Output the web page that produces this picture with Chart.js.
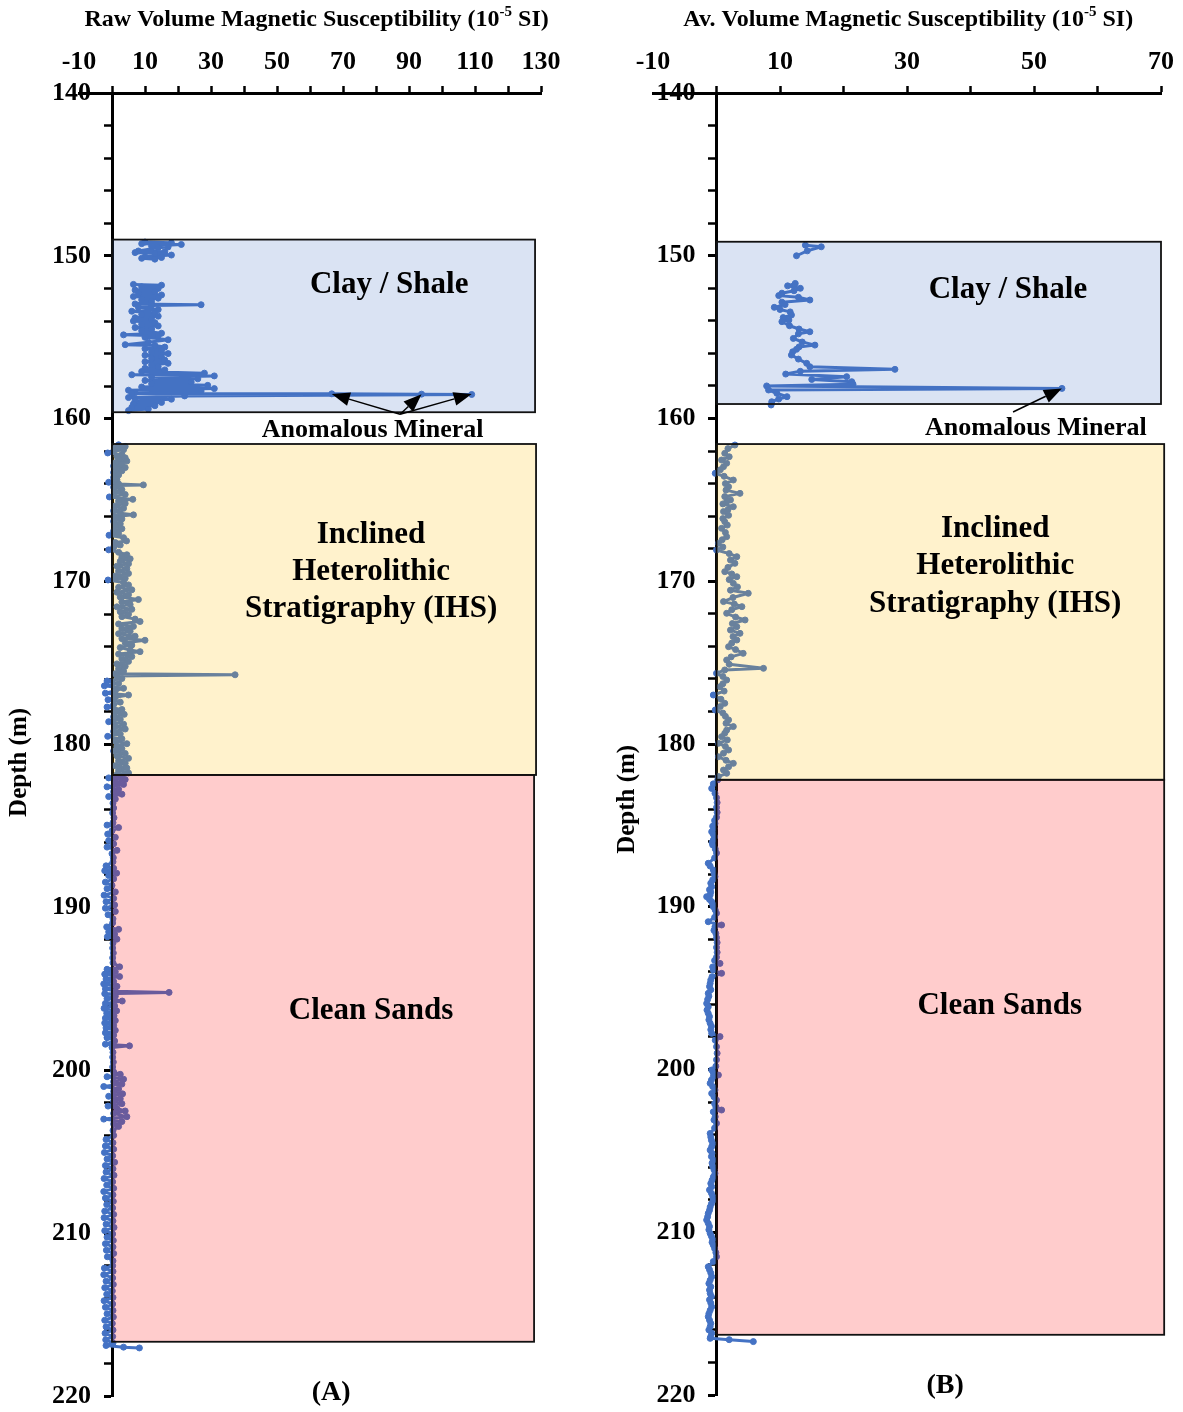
<!DOCTYPE html>
<html>
<head>
<meta charset="utf-8">
<script src="https://cdn.jsdelivr.net/npm/chart.js@4.4.1/dist/chart.umd.min.js"></script>
<style>
  body { margin: 0; background: #fff; }
  #wrap { display: flex; width: 1183px; height: 1412px; }
  canvas { display: block; }
</style>
</head>
<body>
<div id="wrap">
  <canvas id="chartA" width="591" height="1412"></canvas>
  <canvas id="chartB" width="592" height="1412"></canvas>
</div>
<script>
// tick labels
const depthLabels = [140, 150, 160, 170, 180, 190, 200, 210, 220];
const xLabelsA = [-10, 10, 30, 50, 70, 90, 110, 130];
const xLabelsB = [-10, 10, 30, 50, 70];

// facies intervals (depth in m, right edge in 10^-5 SI)
const zoneNames = ['Clay / Shale', 'IHS', 'Clean Sands'];
const zoneTopA = [149.0, 161.55, 181.87];
const zoneBaseA = [159.6, 181.87, 216.67];
const zoneRightA = [128.2, 128.5, 127.9];
const zoneTopB = [149.14, 161.57, 182.2];
const zoneBaseB = [159.11, 182.2, 216.3];
const zoneRightB = [70, 70.5, 70.5];

// raw readings, panel A (null = no core recovered)
const depthA = [
  149.15, 149.2, 149.25, 149.3, 149.4, 149.45, 149.5, 149.7, 149.75, 149.8,
  149.85, 149.95, 150.05, 150.1, 150.15, 150.2, 150.9,
  151.75, 151.8, 151.9, 152.0, 152.1, 152.2, 152.3, 152.4, 152.5, 152.6,
  152.7, 152.8, 152.95, 153.0, 153.05, 153.15, 153.3, 153.4, 153.5, 153.6,
  153.7, 153.8, 153.9, 154.0, 154.1, 154.2, 154.3, 154.4, 154.5, 154.6,
  154.75, 154.85, 154.9, 155.0, 155.15, 155.3, 155.45, 155.5, 155.6, 155.7,
  155.8, 155.9, 156.0, 156.1, 156.2, 156.3, 156.4, 156.5, 156.6, 156.7,
  156.8, 156.9, 157.0, 157.1, 157.2, 157.3, 157.37, 157.45, 157.55, 157.65,
  157.75, 157.85, 157.95, 158.05, 158.15, 158.25, 158.3, 158.4, 158.45, 158.47,
  158.49, 158.51, 158.6, 158.7, 158.8, 158.9, 159.0, 159.1, 159.2, 159.3,
  159.4, 159.5, 160.5,
  161.6, 161.7, 161.8, 161.9, 162.0, 162.1, 162.2, 162.3, 162.4, 162.5,
  162.6, 162.7, 162.8, 162.9, 163.0, 163.1, 163.2, 163.3, 163.45, 163.6,
  163.75, 163.9, 164.0, 164.06, 164.1, 164.2, 164.35, 164.5, 164.65, 164.8,
  164.95, 165.05, 165.2, 165.35, 165.5, 165.65, 165.8, 165.9, 166.0, 166.15,
  166.3, 166.45, 166.6, 166.75, 166.9, 167.05, 167.15, 167.3, 167.5, 167.6,
  167.75, 167.9, 168.05, 168.2, 168.35, 168.5, 168.6, 168.75, 168.9, 169.05,
  169.2, 169.35, 169.5, 169.65, 169.8, 169.9, 170.05, 170.2, 170.35, 170.5,
  170.65, 170.8, 170.95, 171.1, 171.25, 171.4, 171.55, 171.7, 171.85, 172.0,
  172.15, 172.3, 172.45, 172.6, 172.75, 172.9, 173.05, 173.2, 173.35, 173.5,
  173.6, 173.75, 173.9, 174.05, 174.2, 174.3, 174.45, 174.6, 174.75, 174.9,
  175.05, 175.2, 175.35, 175.5, 175.65, 175.72, 175.8, 175.95, 176.1, 176.25,
  176.4, 176.55, 176.7, 176.85, 176.96, 177.1, 177.25, 177.4, 177.55, 177.7,
  177.85, 178.0, 178.15, 178.3, 178.45, 178.6, 178.75, 178.9, 179.05, 179.2,
  179.35, 179.5, 179.65, 179.8, 179.95, 180.1, 180.25, 180.4, 180.55, 180.7,
  180.85, 181.0, 181.15, 181.3, 181.45, 181.6, 181.75, 181.85,
  181.95, 182.05, 182.15, 182.3, 182.45, 182.6, 182.75, 182.9, 183.05, 183.2,
  183.35, 183.6, 183.9, 184.2, 184.5, 184.8, 184.95, 185.1, 185.3, 185.5,
  185.7, 185.9, 186.1, 186.3, 186.5, 186.7, 186.95, 187.2, 187.45, 187.6,
  187.75, 187.9, 188.05, 188.25, 188.45, 188.65, 188.85, 189.05, 189.25, 189.45,
  189.65, 189.85, 190.05, 190.25, 190.45, 190.7, 190.95, 191.2, 191.35, 191.5,
  191.65, 191.8, 191.95, 192.2, 192.5, 192.8, 193.1, 193.4, 193.65, 193.8,
  193.95, 194.1, 194.25, 194.4, 194.55, 194.7, 194.85, 195.0, 195.15, 195.22,
  195.3, 195.45, 195.6, 195.75, 195.9, 196.05, 196.2, 196.35, 196.5, 196.65,
  196.8, 196.95, 197.1, 197.25, 197.4, 197.55, 197.7, 197.85, 198.0, 198.2,
  198.4, 198.5, 198.6, 198.9, 199.2, 199.5, 199.8, 200.1, 200.25, 200.4,
  200.55, 200.7, 200.85, 201.0, 201.15, 201.3, 201.45, 201.6, 201.75, 201.9,
  202.05, 202.2, 202.35, 202.5, 202.65, 202.85, 203.0, 203.15, 203.3, 203.45,
  203.7, 204.0, 204.25, 204.45, 204.65, 204.85, 205.05, 205.25, 205.45, 205.65,
  205.85, 206.05, 206.25, 206.45, 206.65, 206.85, 207.05, 207.25, 207.45, 207.65,
  207.85, 208.05, 208.25, 208.45, 208.65, 208.85, 209.05, 209.25, 209.45, 209.65,
  209.85, 210.05, 210.25, 210.45, 210.65, 210.85, 211.05, 211.25, 211.45, 211.7,
  212.0, 212.15, 212.35, 212.55, 212.75, 212.95, 213.15, 213.35, 213.55, 213.75,
  213.95, 214.15, 214.35, 214.55, 214.75, 214.95, 215.15, 215.35, 215.55, 215.75,
  215.95, 216.15, 216.35, 216.55, 216.75, 216.9, 217.0, 217.05
];
const suscA = [
  10, 18, 9, 21, 12, 17, 14, 8, 16, 7,
  13, 18, 10, 15, 9, 13, null,
  6.5, 15, 9, 14, 7, 13, 8, 15, 6.5, 14,
  9, 12, 7, 27, 12, 8, 14, 6, 13, 9,
  14, 7, 12, 6.5, 13, 9, 14, 7, 12, 9,
  15, 3.5, 14, 10, 17, 11, 4, 13, 16, 10,
  15, 12, 17, 10, 15, 12, 16, 10, 17, 12,
  14, 10, 16, 9, 28, 6, 31, 12, 26, 10,
  24, 12, 29, 9, 31, 5, 27, 7, 6, 66.6,
  93.8, 109, 22, 5, 18, 7, 15, 6.5, 13, 6,
  11, 5, null,
  2, 4, 1, 3.5, 0.5, -1.3, 3, 1.5, 4, 2,
  4.5, 1, 3, 0.5, 4, 1.5, 3, 0.5, 2, 0.5,
  1.5, -1, 2, 9.5, 1.5, 0.5, 3, 1, 4, -0.8,
  6.3, 2, 4, 1, 3.5, 0.5, 2.5, 6.5, 1, 3,
  0.5, 2.5, 1, 3, 0.5, 2, -0.9, 3.5, 4.4, 1,
  2.5, 0.5, -1, 2, 4.5, 3, 5.5, 2.5, 5, 1.5,
  4.5, 2, 5, 1, 4, -1.2, 3.5, 5, 2, 6,
  1.5, 5, 2.5, 8, 3, 5.5, 1.5, 6, 2.5, 5,
  3, 7, 8.5, 2, 6.5, 3, 5.5, 2, 7, 3,
  10, 4, 6, 2.5, 5.5, 8.5, 2, 6, 3, 5,
  1.5, 4, 2, 3.5, 1, 37.3, 1.5, 3, -1.5, 2,
  -2.3, 3.5, 1, -2, 5, 1, -1.2, 2.5, 0.5, -1.5,
  3, 1, 3.7, 0.5, 2.5, -1, 3.5, 1, 4, 0.5,
  2.5, -1.3, 3, 1, 4.5, 1.5, 3, 0.5, 4, 1.5,
  5, 2, 4, 1, 4.5, 2, 5, 1.5,
  3, -1, 4, 1, 3.5, -1.5, 2, 0.5, 3, -1,
  1, 0.3, 0.5, 0.2, 0.6, 0.3, -1.5, 2, 0, -1.3,
  1, -1, 0.5, -1.5, 1.5, 0, 0.4, 0.3, -1.8, 0.5,
  -2.2, 1.4, -1, 0.5, -2, 0, -1.5, 1, -2.4, 0.5,
  -1.8, 0.8, -2, 1, -1.2, 0.3, 0.2, -1.6, 2, -1,
  0.8, -1.4, 1.5, 0.3, 0.2, 0.4, 0.2, 0.3, 2.3, -1.5,
  1, -2.2, 2.3, -1.8, 0.5, -2.5, 1.5, -2, 1, 17.3,
  -2.2, 1, -1.5, 3.1, -2, 0.8, -2.4, 1.4, -1.6, 0.6,
  -2, 1, -2.2, 0.5, -1.8, 1, -2, 0.5, -1.5, 0.8,
  -2, 5.3, 0, 0.3, 0.2, 0.4, 0.2, 0.5, 2.5, -1.5,
  3.5, 0.5, 3, -2.5, 2, 0.5, 3.2, -1, 2.5, 0.5,
  3, -1.2, 1.5, 4, 0.5, 4.5, -2.5, 3, 0.5, 2,
  0.3, 0.5, -1.8, 0.3, -2, 0.5, -2.3, 0.2, -1.5, 0.8,
  -2, 0.3, -1.8, 0.6, -2.4, 0.2, -1.6, 0.5, -2.5, 0.3,
  -2, 0.4, -1.6, 0.2, -2.2, 0.5, -2.4, 0.3, -1.8, 0.6,
  -2.2, 0.2, -1.5, 0.4, -2, 0.3, -1.7, 0.5, -1.4, 0.3,
  0.2, -2.3, 0.3, -2.5, 0.2, -1.8, 0.4, -2.2, 0.1, -1.6,
  0.3, -2.4, 0.2, -2, 0.3, -1.5, 0.4, -2.2, 0.1, -1.8,
  0.3, -2.1, 0.2, -1.9, 0.3, -1.8, 3.5, 8.3
];

// averaged readings, panel B
const depthB = [
  149.35, 149.45, 149.7, 150.0, 150.8,
  151.7, 151.85, 152.0, 152.15, 152.3, 152.45, 152.55, 152.72, 152.85, 153.0,
  153.17, 153.3, 153.45, 153.64, 153.8, 153.95, 154.05, 154.3, 154.5, 154.67,
  154.8, 155.08, 155.3, 155.49, 155.6, 155.75, 155.9, 156.1, 156.35, 156.61,
  156.82, 156.98, 157.1, 157.27, 157.43, 157.6, 157.74, 157.9, 158.0, 158.15,
  158.25, 158.45, 158.66, 158.8, 158.97, 159.17, 160.4,
  161.63, 161.85, 162.14, 162.35, 162.55, 162.75, 162.96, 163.15, 163.37, 163.55,
  163.78, 164.0, 164.19, 164.4, 164.6, 164.8, 165.0, 165.11, 165.25, 165.42,
  165.6, 165.72, 165.95, 166.15, 166.34, 166.55, 166.75, 167.0, 167.26, 167.45,
  167.67, 167.9, 168.08, 168.3, 168.49, 168.7, 168.9, 169.15, 169.41, 169.55,
  169.72, 169.9, 170.13, 170.35, 170.55, 170.74, 171.0, 171.25, 171.4, 171.56,
  171.75, 171.97, 172.2, 172.38, 172.6, 172.79, 173.0, 173.2, 173.4, 173.61,
  173.8, 174.02, 174.2, 174.43, 174.65, 174.84, 175.1, 175.35, 175.45, 175.66,
  175.85, 176.07, 176.3, 176.48, 176.75, 176.99, 177.25, 177.5, 177.7, 177.91,
  178.1, 178.3, 178.52, 178.73, 178.93, 179.15, 179.34, 179.55, 179.75, 179.96,
  180.15, 180.37, 180.57, 180.78, 181.0, 181.19, 181.4, 181.6, 181.8, 182.0,
  182.2, 182.45, 182.73, 183.03, 183.3, 183.6, 183.9, 184.2, 184.5, 184.7,
  184.88, 185.05, 185.2, 185.39, 185.55, 185.7, 185.9, 186.05, 186.2, 186.45,
  186.7, 187.0, 187.33, 187.5, 187.74, 187.95, 188.15, 188.35, 188.55, 188.77,
  188.95, 189.1, 189.28, 189.38, 189.55, 189.69, 189.85, 190.0, 190.2, 190.4,
  190.65, 190.92, 191.12, 191.23, 191.45, 191.64, 191.9, 192.2, 192.5, 192.8,
  193.1, 193.3, 193.48, 193.7, 193.89, 194.09, 194.3, 194.5, 194.71, 194.9,
  195.1, 195.32, 195.5, 195.7, 195.94, 196.15, 196.35, 196.55, 196.75, 196.95,
  197.16, 197.35, 197.55, 197.78, 197.98, 198.2, 198.6, 199.0, 199.4, 199.8,
  200.03, 200.2, 200.34, 200.44, 200.65, 200.85, 201.05, 201.26, 201.47, 201.68,
  201.88, 202.1, 202.3, 202.49, 202.6, 202.9, 203.1, 203.31, 203.6, 203.93,
  204.15, 204.35, 204.55, 204.74, 204.95, 205.15, 205.35, 205.56, 205.75, 205.95,
  206.15, 206.38, 206.6, 206.8, 207.0, 207.2, 207.4, 207.6, 207.8, 208.02,
  208.25, 208.45, 208.65, 208.84, 209.05, 209.25, 209.45, 209.65, 209.85, 210.07,
  210.25, 210.45, 210.62, 210.79, 211.0, 211.25, 211.5, 211.8, 212.12, 212.3,
  212.5, 212.73, 212.95, 213.15, 213.35, 213.55, 213.76, 213.95, 214.15, 214.35,
  214.58, 214.8, 215.0, 215.19, 215.4, 215.6, 215.8, 216.0, 216.21, 216.4,
  216.52, 216.6, 216.72
];
const suscB = [
  14, 16.5, 14.3, 12.6, null,
  12.4, 11.2, 13.2, 12.2, 10.3, 9.8, 12.9, 14.7, 10.3, 10.8,
  9.1, 10.0, 11.6, 11.8, 10.5, 11.4, 10.3, 11.5, 13.0, 14.7,
  12.9, 12.1, 13.5, 15.5, 13.0, 12.6, 12.0, 11.8, 12.9, 14.2,
  14.7, 28.1, 13.2, 10.9, 20.5, 15.0, 21.3, 21.5, 7.9, 54.4,
  8.2, 9.5, 11.1, 9.8, 8.7, 8.6, null,
  2.9, 1.8, 1.3, 2.0, 0.8, 1.6, 1.1, 0.6, -0.2, 1.2,
  2.65, 1.4, 1.9, 1.5, 3.7, 1.3, 2.2, 1.6, 1.0, 2.65,
  1.8, 1.1, 1.9, 1.0, 1.3, 1.7, 0.8, 1.4, 1.6, 0.9,
  0.3, 1.0, 0, 2.0, 3.2, 2.2, 2.9, 1.8, 1.3, 2.4,
  3.2, 2.0, 2.65, 3.3, 2.2, 5.0, 2.6, 1.1, 2.8, 4.0,
  2.4, 1.6, 3.0, 4.5, 2.5, 3.2, 2.2, 3.7, 2.6, 3.2,
  2.4, 1.9, 3.0, 4.2, 2.3, 1.6, 2.0, 7.4, 1.3, 0,
  1.0, 1.6, 1.0, 0.55, 1.2, -0.5, 0.7, 1.3, 0.6, -0.2,
  1.0, 1.4, 1.9, 1.5, 2.65, 1.6, 1.3, 0.8, 1.7, 0.3,
  1.4, 1.9, 1.1, 0.3, 1.5, 2.65, 1.9, 1.1, 1.6, 0.3,
  0.2, -0.5, -0.76, -0.24, 0, 0.1, 0, 0.1, 0, -0.3,
  -0.24, -0.6, -0.4, -0.76, -0.5, -0.3, -0.5, -0.7, -0.6, -0.2,
  0, -0.3, -1.3, -1.0, -0.5, -0.4, -0.24, -0.6, -0.9, -0.76,
  -1.1, -0.9, -1.0, -1.55, -1.1, -0.76, -0.6, -0.5, -0.2, 0,
  -0.3, -1.3, 0.8, -0.24, -0.4, -0.1, 0, 0.1, 0, 0.1,
  0, -0.3, 0.55, -0.6, -0.5, 0.8, -0.7, -0.9, -1.0, -1.1,
  -0.9, -1.3, -1.2, -1.4, -1.55, -1.3, -1.5, -1.3, -1.1, -1.2,
  -1.0, -0.8, -0.9, -0.76, 0.55, -0.2, 0, 0.1, 0, -0.1,
  -0.76, -0.5, 0.3, -0.5, -0.8, -1.0, -0.6, -0.24, -0.76, -0.4,
  0, -0.3, -0.1, 0.8, -0.5, -0.2, -0.4, 0, -0.3, -1.0,
  -0.9, -0.8, -0.6, -0.76, -1.0, -0.7, -0.8, -0.5, -0.7, -0.6,
  -0.4, -0.24, -0.5, -0.7, -0.9, -0.76, -1.1, -0.8, -0.6, -0.5,
  -0.8, -1.0, -1.1, -1.3, -1.4, -1.55, -1.3, -1.1, -1.2, -1.0,
  -0.8, -0.6, -0.7, -0.5, -0.3, -0.1, 0, -0.5, -1.3, -1.1,
  -0.9, -0.76, -1.0, -1.2, -0.9, -1.1, -1.0, -0.8, -1.1, -0.9,
  -0.76, -1.0, -1.2, -1.3, -1.1, -0.9, -1.0, -1.2, -0.76, -0.9,
  -1.0, 2.0, 5.8
];

const SERIF = '"Liberation Serif", "Times New Roman", serif';
const LINE_BLUE = '#4472C4';
// facies overlays at 20% opacity
const zoneFills = ['rgba(68,114,196,0.2)', 'rgba(255,192,0,0.2)', 'rgba(255,0,0,0.2)'];

function font(size) {
  return 'bold ' + size + 'px ' + SERIF;
}

function drawArrow(ctx, x0, y0, x1, y1) {
  const ang = Math.atan2(y1 - y0, x1 - x0);
  const len = 18, half = 7;
  const bx = x1 - len * Math.cos(ang), by = y1 - len * Math.sin(ang);
  ctx.beginPath();
  ctx.moveTo(x0, y0);
  ctx.lineTo(bx, by);
  ctx.stroke();
  ctx.beginPath();
  ctx.moveTo(x1, y1);
  ctx.lineTo(bx + half * Math.sin(ang), by - half * Math.cos(ang));
  ctx.lineTo(bx - half * Math.sin(ang), by + half * Math.cos(ang));
  ctx.closePath();
  ctx.fill();
}

// boxes, labels, arrows and titles for one panel
function makeFacies(cfg) {
  return {
    id: 'facies',
    afterDatasetsDraw(chart) {
      const {ctx, scales: {x, y}} = chart;
      ctx.save();
      cfg.tops.forEach((top, i) => {
        const x0 = x.getPixelForValue(0);
        const x1 = x.getPixelForValue(cfg.rights[i]);
        const y0 = y.getPixelForValue(top);
        const y1 = y.getPixelForValue(cfg.bases[i]);
        ctx.fillStyle = zoneFills[i];
        ctx.fillRect(x0, y0, x1 - x0, y1 - y0);
        ctx.strokeStyle = '#111';
        ctx.lineWidth = 1.8;
        ctx.strokeRect(x0, y0, x1 - x0, y1 - y0);
      });
      ctx.restore();
    },
    afterDraw(chart) {
      const {ctx, scales: {x, y}} = chart;
      ctx.save();
      ctx.fillStyle = '#000';
      ctx.strokeStyle = '#000';

      // depth tick labels, left of the axis drawn at x = 0
      const axisX = x.getPixelForValue(0);
      ctx.textAlign = 'right';
      ctx.textBaseline = 'middle';
      ctx.font = font(26);
      depthLabels.forEach(d => ctx.fillText(String(d), axisX - 21, y.getPixelForValue(d)));

      ctx.textAlign = 'center';
      cfg.labels.forEach(l => {
        ctx.font = font(l.size);
        ctx.fillText(l.text, x.getPixelForValue(l.x), y.getPixelForValue(l.y));
      });

      ctx.lineWidth = 1.5;
      cfg.arrows.forEach(a => {
        drawArrow(ctx, x.getPixelForValue(a.from[0]), y.getPixelForValue(a.from[1]),
          x.getPixelForValue(a.to[0]), y.getPixelForValue(a.to[1]));
      });

      // axis title with superscript exponent
      const parts = [[cfg.title, 24, 0], ['-5', 15, -10], [' SI)', 24, 0]];
      let total = 0;
      parts.forEach(p => { ctx.font = font(p[1]); total += ctx.measureText(p[0]).width; });
      let tx = x.getPixelForValue(cfg.titleX) - total / 2;
      ctx.textAlign = 'left';
      ctx.textBaseline = 'alphabetic';
      parts.forEach(p => {
        ctx.font = font(p[1]);
        ctx.fillText(p[0], tx, 26 + p[2]);
        tx += ctx.measureText(p[0]).width;
      });

      // depth axis title
      ctx.save();
      ctx.translate(cfg.depthTitleX, y.getPixelForValue(cfg.depthTitleY));
      ctx.rotate(-Math.PI / 2);
      ctx.textAlign = 'center';
      ctx.textBaseline = 'middle';
      ctx.font = font(25);
      ctx.fillText('Depth (m)', 0, 0);
      ctx.restore();
      ctx.restore();
    }
  };
}

function buildChart(id, depth, susc, xMax, xLabels, pad, cfg) {
  return new Chart(document.getElementById(id), {
    type: 'scatter',
    data: {
      datasets: [{
        data: depth.map((d, i) => ({x: susc[i], y: d})),
        showLine: true,
        spanGaps: false,
        borderColor: LINE_BLUE,
        backgroundColor: LINE_BLUE,
        borderWidth: 3,
        borderJoinStyle: 'round',
        borderCapStyle: 'round',
        pointRadius: 3,
        pointBorderWidth: 1,
        pointHoverRadius: 0
      }]
    },
    options: {
      responsive: false,
      animation: false,
      events: [],
      layout: { padding: pad },
      plugins: { legend: { display: false }, tooltip: { enabled: false } },
      scales: {
        x: {
          type: 'linear',
          position: 'top',
          min: -10,
          max: xMax,
          z: 1,
          border: { color: '#000', width: 3 },
          grid: {
            drawOnChartArea: false,
            tickLength: 7,
            tickWidth: 2.5,
            tickColor: c => (c.tick && c.tick.value === -10) ? 'rgba(0,0,0,0)' : '#000'
          },
          ticks: {
            stepSize: 10,
            autoSkip: false,
            maxRotation: 0,
            padding: 8,
            color: '#000',
            font: { family: SERIF, weight: 'bold', size: 26 },
            callback: v => xLabels.includes(v) ? String(v) : ''
          },
          afterFit: s => { s.height = 93; }
        },
        y: {
          type: 'linear',
          position: { x: 0 },
          reverse: true,
          min: 140,
          max: 220,
          z: 1,
          border: { color: '#000', width: 3 },
          grid: {
            drawOnChartArea: false,
            tickLength: 7,
            tickWidth: c => (c.tick && c.tick.value % 10 === 0) ? 3 : 2.5,
            tickColor: '#000'
          },
          ticks: { stepSize: 2, autoSkip: false, display: false }
        }
      }
    },
    plugins: [makeFacies(cfg)]
  });
}

buildChart('chartA', depthA, suscA, 130, xLabelsA, { left: 79, right: 50, top: 0, bottom: 16 }, {
  tops: zoneTopA, bases: zoneBaseA, rights: zoneRightA,
  title: 'Raw Volume Magnetic Susceptibility (10', titleX: 62,
  depthTitleX: 20, depthTitleY: 181.1,
  labels: [
    { text: zoneNames[0], x: 84, y: 151.8, size: 31 },
    { text: 'Anomalous Mineral', x: 79, y: 160.69, size: 26 },
    { text: 'Inclined', x: 78.5, y: 167.13, size: 31 },
    { text: 'Heterolithic', x: 78.5, y: 169.4, size: 31 },
    { text: 'Stratigraphy (' + zoneNames[1] + ')', x: 78.5, y: 171.68, size: 31 },
    { text: zoneNames[2], x: 78.5, y: 196.35, size: 31 },
    { text: '(A)', x: 66.4, y: 219.8, size: 28 }
  ],
  arrows: [
    { from: [87.3, 159.72], to: [66.6, 158.48] },
    { from: [87.3, 159.72], to: [93.8, 158.5] },
    { from: [87.3, 159.72], to: [109, 158.48] }
  ]
});

buildChart('chartB', depthB, suscB, 70, xLabelsB, { left: 62, right: 22, top: 0, bottom: 17 }, {
  tops: zoneTopB, bases: zoneBaseB, rights: zoneRightB,
  title: 'Av. Volume Magnetic Susceptibility (10', titleX: 30.2,
  depthTitleX: 37, depthTitleY: 183.4,
  labels: [
    { text: zoneNames[0], x: 45.9, y: 152.1, size: 31 },
    { text: 'Anomalous Mineral', x: 50.3, y: 160.58, size: 26 },
    { text: 'Inclined', x: 43.9, y: 166.8, size: 31 },
    { text: 'Heterolithic', x: 43.9, y: 169.06, size: 31 },
    { text: 'Stratigraphy (' + zoneNames[1] + ')', x: 43.9, y: 171.4, size: 31 },
    { text: zoneNames[2], x: 44.6, y: 196.1, size: 31 },
    { text: '(B)', x: 36, y: 219.45, size: 28 }
  ],
  arrows: [
    { from: [46.7, 159.6], to: [54.4, 158.15] }
  ]
});
</script>
</body>
</html>
